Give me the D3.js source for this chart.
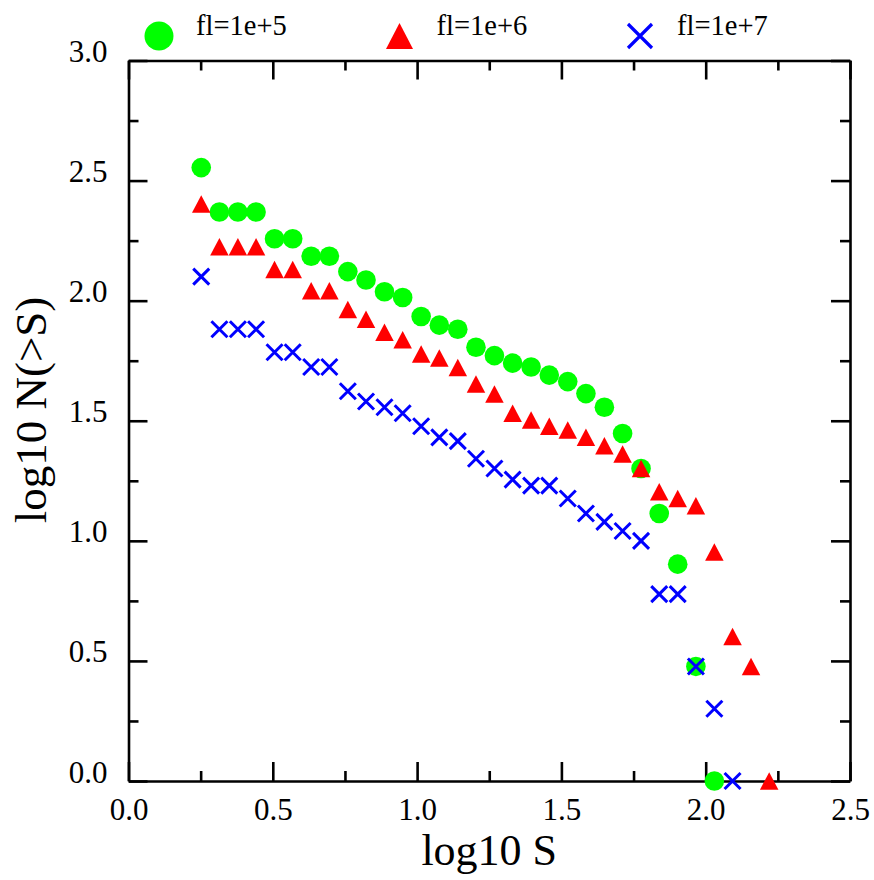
<!DOCTYPE html>
<html>
<head>
<meta charset="utf-8">
<script src="https://cdn.jsdelivr.net/npm/d3@7"></script>
<style>
  html, body { margin: 0; padding: 0; background: #fff; }
</style>
</head>
<body>
<svg id="chart" width="874" height="880"></svg>
<script>
// log10 S bin positions shared by all three series
const logS = [0.252, 0.315, 0.379, 0.442, 0.506, 0.569, 0.633, 0.696, 0.760, 0.823,
              0.887, 0.950, 1.014, 1.077, 1.141, 1.204, 1.268, 1.331, 1.395, 1.458,
              1.522, 1.585, 1.649, 1.712, 1.776, 1.839, 1.903, 1.966, 2.030, 2.093,
              2.157, 2.220];

// log10 N(>S) for each flux limit
const nFl5 = [2.554, 2.369, 2.369, 2.369, 2.258, 2.258, 2.185, 2.185, 2.121, 2.086,
              2.037, 2.013, 1.934, 1.898, 1.881, 1.806, 1.771, 1.740, 1.724, 1.690,
              1.663, 1.613, 1.556, 1.447, 1.301, 1.114, 0.903, 0.477, 0.000];
const nFl6 = [2.402, 2.224, 2.224, 2.224, 2.130, 2.130, 2.041, 2.041, 1.963, 1.923,
              1.868, 1.837, 1.778, 1.761, 1.722, 1.653, 1.611, 1.531, 1.503, 1.477,
              1.461, 1.431, 1.396, 1.362, 1.301, 1.204, 1.176, 1.146, 0.954, 0.602,
              0.477, 0.000];
const nFl7 = [2.100, 1.881, 1.881, 1.881, 1.785, 1.785, 1.724, 1.724, 1.623, 1.580,
              1.556, 1.531, 1.477, 1.431, 1.415, 1.342, 1.301, 1.255, 1.230, 1.230,
              1.176, 1.114, 1.079, 1.041, 1.000, 0.778, 0.778, 0.477, 0.301, 0.000];

const seriesNames = ["fl=1e+5", "fl=1e+6", "fl=1e+7"];
const xMajorTicks = [0.0, 0.5, 1.0, 1.5, 2.0, 2.5];
const xMinorTicks = [0.25, 0.75, 1.25, 1.75, 2.25];
const yMajorTicks = [0.0, 0.5, 1.0, 1.5, 2.0, 2.5, 3.0];
const yMinorTicks = [0.25, 0.75, 1.25, 1.75, 2.25, 2.75];

const SERIF = "'Liberation Serif', 'Times New Roman', Times, serif";
const svg = d3.select("#chart");
const plotL = 128.5, plotR = 850, plotT = 60.5, plotB = 781;

const x = d3.scaleLinear().domain([0, 2.5]).range([plotL, plotR]);
const y = d3.scaleLinear().domain([0, 3]).range([plotB, plotT]);

const AXW = 2.6, MAJ = 19, MIN = 10;
const fmt = d3.format(".1f");

function styleAxis(g) {
  g.selectAll("path.domain").attr("stroke", "#000").attr("stroke-width", AXW);
  g.selectAll(".tick line").attr("stroke", "#000").attr("stroke-width", AXW);
}

// bottom axis: frame line, inward major/minor ticks, labels
const gB = svg.append("g").attr("transform", `translate(0,${plotB})`)
  .call(d3.axisBottom(x).tickValues(xMajorTicks).tickFormat(fmt).tickSizeInner(-MAJ).tickSizeOuter(0));
styleAxis(gB);
gB.selectAll(".tick text").attr("y", 39).attr("dy", null)
  .style("font-family", SERIF).style("font-size", "31px").attr("fill", "#000");
svg.append("g").attr("transform", `translate(0,${plotB})`)
  .call(d3.axisBottom(x).tickValues(xMinorTicks).tickFormat("").tickSizeInner(-MIN).tickSizeOuter(0))
  .call(styleAxis).select("path.domain").remove();

// top axis
const gT = svg.append("g").attr("transform", `translate(0,${plotT})`)
  .call(d3.axisTop(x).tickValues(xMajorTicks).tickFormat("").tickSizeInner(-MAJ).tickSizeOuter(0));
styleAxis(gT);
svg.append("g").attr("transform", `translate(0,${plotT})`)
  .call(d3.axisTop(x).tickValues(xMinorTicks).tickFormat("").tickSizeInner(-MIN).tickSizeOuter(0))
  .call(styleAxis).select("path.domain").remove();

// left axis
const gL = svg.append("g").attr("transform", `translate(${plotL},0)`)
  .call(d3.axisLeft(y).tickValues(yMajorTicks).tickFormat(fmt).tickSizeInner(-MAJ).tickSizeOuter(0));
styleAxis(gL);
gL.selectAll(".tick text").attr("x", -21).attr("dy", null).attr("y", 1)
  .style("font-family", SERIF).style("font-size", "31px").attr("fill", "#000");
svg.append("g").attr("transform", `translate(${plotL},0)`)
  .call(d3.axisLeft(y).tickValues(yMinorTicks).tickFormat("").tickSizeInner(-MIN).tickSizeOuter(0))
  .call(styleAxis).select("path.domain").remove();

// right axis
const gR = svg.append("g").attr("transform", `translate(${plotR},0)`)
  .call(d3.axisRight(y).tickValues(yMajorTicks).tickFormat("").tickSizeInner(-MAJ).tickSizeOuter(0));
styleAxis(gR);
svg.append("g").attr("transform", `translate(${plotR},0)`)
  .call(d3.axisRight(y).tickValues(yMinorTicks).tickFormat("").tickSizeInner(-MIN).tickSizeOuter(0))
  .call(styleAxis).select("path.domain").remove();

// axis titles
svg.append("text").attr("x", (plotL + plotR) / 2).attr("y", 865)
  .attr("text-anchor", "middle").style("font-family", SERIF).style("font-size", "44px")
  .text("log10 S");
svg.append("text").attr("transform", "translate(46,410) rotate(-90)")
  .attr("text-anchor", "middle").style("font-family", SERIF).style("font-size", "45px")
  .text("log10 N(>S)");

// marker shapes
const GREEN = "#00ff00", RED = "#ff0000", BLUE = "#0000ff";
function triPath(w, h) {
  return `M0,${-h / 2}L${w / 2},${h / 2}L${-w / 2},${h / 2}Z`;
}
function crossPath(s) {
  const a = s / 2;
  return `M${-a},${-a}L${a},${a}M${-a},${a}L${a},${-a}`;
}

const pts = (vals) => vals.map((v, i) => [logS[i], v]);

// fl=1e+5 : filled circles
svg.append("g").selectAll("circle").data(pts(nFl5)).join("circle")
  .attr("cx", d => x(d[0])).attr("cy", d => y(d[1])).attr("r", 9.8).attr("fill", GREEN);

// fl=1e+6 : filled triangles
svg.append("g").selectAll("path").data(pts(nFl6)).join("path")
  .attr("transform", d => `translate(${x(d[0])},${y(d[1])})`)
  .attr("d", triPath(18.5, 17.5)).attr("fill", RED);

// fl=1e+7 : crosses
svg.append("g").selectAll("path").data(pts(nFl7)).join("path")
  .attr("transform", d => `translate(${x(d[0])},${y(d[1])})`)
  .attr("d", crossPath(16)).attr("fill", "none").attr("stroke", BLUE).attr("stroke-width", 3);

// legend
const legend = svg.append("g");
const legItems = [
  { cx: 159, name: seriesNames[0], kind: "circle" },
  { cx: 399.5, name: seriesNames[1], kind: "tri" },
  { cx: 640, name: seriesNames[2], kind: "cross" }
];
legItems.forEach(it => {
  if (it.kind === "circle") {
    legend.append("circle").attr("cx", it.cx).attr("cy", 36).attr("r", 14.5).attr("fill", GREEN);
  } else if (it.kind === "tri") {
    legend.append("path").attr("transform", `translate(${it.cx},36)`)
      .attr("d", triPath(27, 26)).attr("fill", RED);
  } else {
    legend.append("path").attr("transform", `translate(${it.cx},36)`)
      .attr("d", crossPath(24)).attr("fill", "none").attr("stroke", BLUE).attr("stroke-width", 3.2);
  }
  legend.append("text").attr("x", it.cx + 37).attr("y", 35)
    .style("font-family", SERIF).style("font-size", "28.5px").text(it.name);
});
</script>
</body>
</html>
